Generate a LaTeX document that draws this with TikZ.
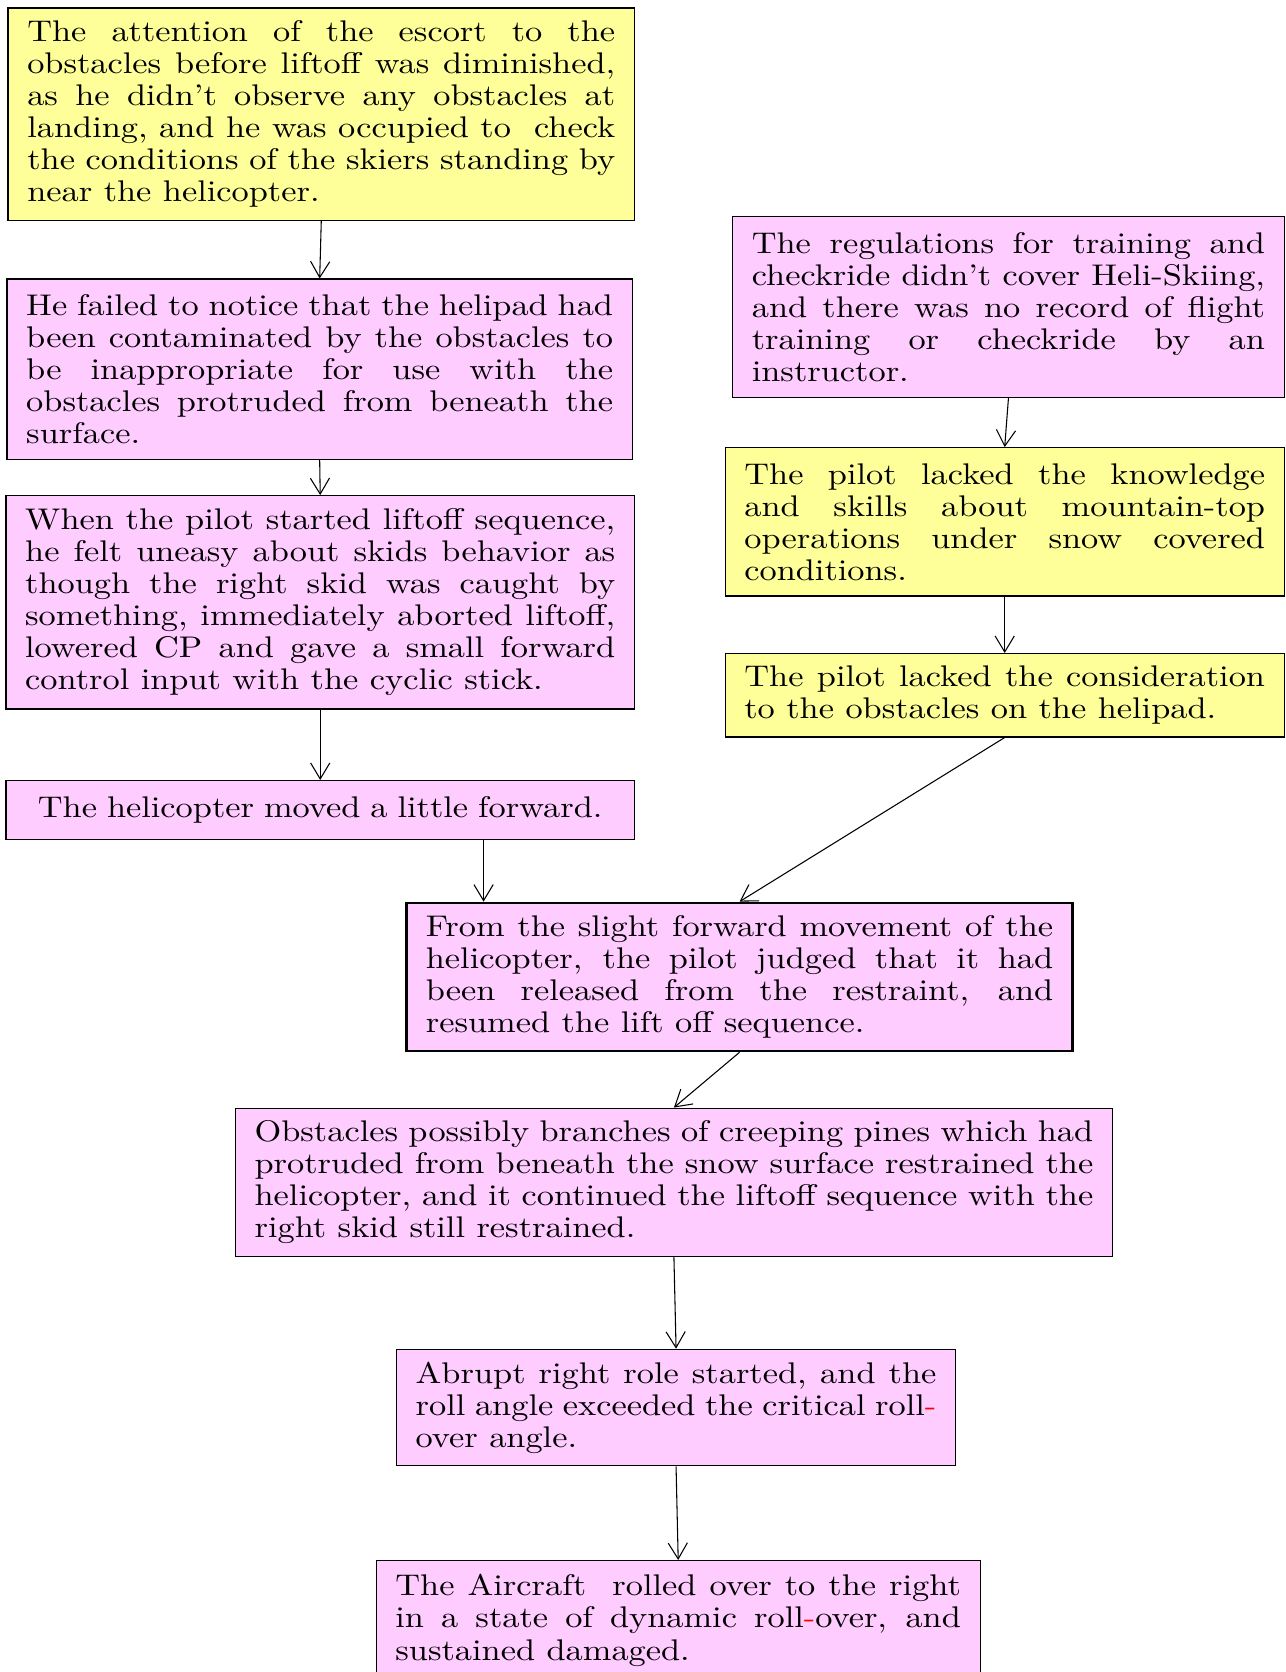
\documentclass[tikz,border=0pt]{standalone}
\usepackage{fontspec}
\setmainfont{lmroman10-regular}[Extension=.otf, FakeStretch=1.15]
\usetikzlibrary{arrows.meta}

\definecolor{boxpink}{RGB}{255,204,255}
\definecolor{boxyellow}{RGB}{255,255,153}
\tolerance=10000
\hbadness=10000

\begin{document}
\begin{tikzpicture}[
    x=0.5pt, y=-0.5pt,
    every node/.style={font=\fontsize{14}{15}\selectfont},
    causebox/.style={draw, line width=0.6pt, anchor=north west, align=justify,
      inner xsep=9pt, inner ysep=4pt},
    pinkbox/.style={causebox, fill=boxpink},
    yellowbox/.style={causebox, fill=boxyellow},
    arr/.style={-{Straight Barb[length=7.5pt,width=9pt]}, line width=0.5pt},
  ]
  \useasboundingbox (0,0) rectangle (1205,1567);

  % left column
  \node[yellowbox, text width=275.5pt, minimum height=99.5pt] (attention) at (7,7)
    {The attention of the escort to the\linebreak obstacles before liftoff was diminished,\linebreak as he didn't observe any obstacles at\linebreak landing, and he was occupied to~ check\linebreak the conditions of the skiers standing by\linebreak near the helicopter.};
  \node[pinkbox, text width=275pt, minimum height=84.5pt] (notice) at (6,261)
    {He failed to notice that the helipad had\linebreak been contaminated by the obstacles to\linebreak be inappropriate for use with the\linebreak obstacles protruded from beneath the\linebreak surface.};
  \node[pinkbox, text width=276.5pt, minimum height=100pt] (liftoff) at (5,464)
    {When the pilot started liftoff sequence,\linebreak he felt uneasy about skids behavior as\linebreak though the right skid was caught by\linebreak something, immediately aborted liftoff,\linebreak lowered CP and gave a small forward\linebreak control input with the cyclic stick.};
  \node[pinkbox, align=center, text width=276.5pt, minimum height=27.5pt] (forward) at (5,731)
    {The helicopter moved a little forward.};

  % right column
  \node[pinkbox, text width=240.5pt, minimum height=85pt] (regulations) at (686,202)
    {The regulations for training and\linebreak checkride didn't cover Heli-Skiing,\linebreak and there was no record of flight\linebreak training or checkride by an\linebreak instructor.};
  \node[yellowbox, text width=244pt, minimum height=69.5pt] (knowledge) at (679,419)
    {The pilot lacked the knowledge\linebreak and skills about mountain-top\linebreak operations under snow covered\linebreak conditions.};
  \node[yellowbox, text width=244pt, minimum height=39pt] (consideration) at (679,612)
    {The pilot lacked the consideration\linebreak to the obstacles on the helipad.};

  % lower chain
  \node[pinkbox, line width=1.1pt, text width=294pt, minimum height=69.5pt] (judged) at (380,845)
    {From the slight forward movement of the\linebreak helicopter, the pilot judged that it had\linebreak been released from the restraint, and\linebreak resumed the lift off sequence.};
  \node[pinkbox, text width=393pt, minimum height=69.5pt] (restrained) at (220,1038)
    {Obstacles possibly branches of creeping pines which had\linebreak protruded from beneath the snow surface restrained the\linebreak helicopter, and it continued the liftoff sequence with the\linebreak right skid still restrained.};
  \node[pinkbox, text width=244pt, minimum height=54.5pt] (rollstart) at (371,1264)
    {Abrupt right role started, and the\linebreak roll angle exceeded the critical roll\textcolor{red}{-}\linebreak over angle.};
  \node[pinkbox, text width=265pt, minimum height=56pt] (rollover) at (352,1462)
    {The Aircraft~ rolled over to the right\linebreak in a state of dynamic roll\textcolor{red}{-}over, and\linebreak sustained damaged.};

  \coordinate (fwdout) at ([xshift=-71pt]forward.south east);

  \draw[arr] (attention.south) -- (notice.north);
  \draw[arr] (notice.south) -- (liftoff.north);
  \draw[arr] (liftoff.south) -- (forward.north);
  \draw[arr] (fwdout) -- (fwdout |- judged.north);
  \draw[arr] (regulations.south) -- (knowledge.north);
  \draw[arr] (knowledge.south) -- (consideration.north);
  \draw[arr] (consideration.south) -- (judged.north);
  \draw[arr] (judged.south) -- (restrained.north);
  \draw[arr] (restrained.south) -- (rollstart.north);
  \draw[arr] (rollstart.south) -- (rollover.north);
\end{tikzpicture}
\end{document}
